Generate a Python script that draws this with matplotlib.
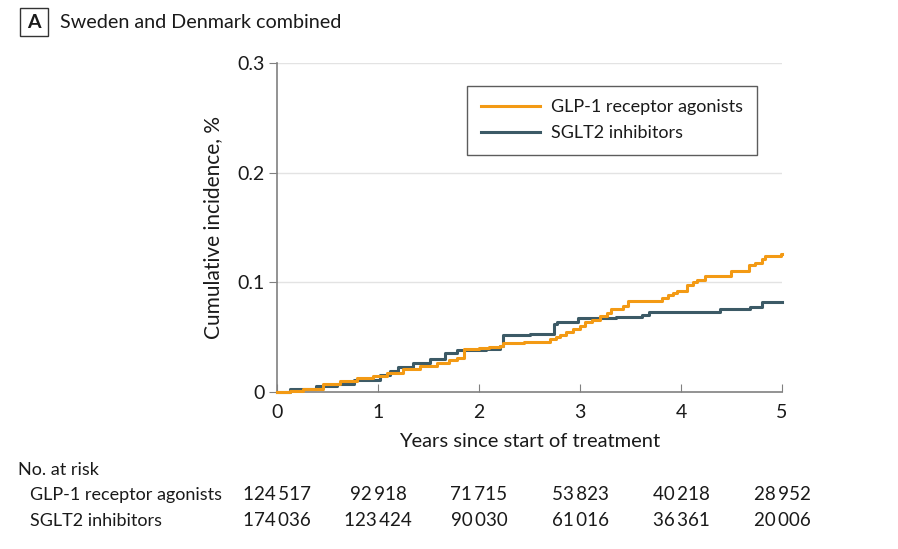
import matplotlib.pyplot as plt
import matplotlib.transforms as mtransforms
from matplotlib.patches import Rectangle

plt.rcParams['font.family'] = ['Lato', 'DejaVu Sans']

# Step curves (years, cumulative incidence %)
glp1_t = [0, 0.13, 0.26, 0.46, 0.62, 0.79, 0.95, 1.09, 1.25, 1.42, 1.58, 1.70, 1.78, 1.85,
          2.00, 2.10, 2.21, 2.24, 2.45, 2.70, 2.76, 2.80, 2.86, 2.93, 3.00, 3.05, 3.12,
          3.20, 3.27, 3.31, 3.43, 3.48, 3.81, 3.87, 3.92, 3.96, 4.06, 4.12, 4.16, 4.24,
          4.50, 4.67, 4.73, 4.80, 4.83, 4.99, 5.0]
glp1_y = [0, 0.0005, 0.0027, 0.0076, 0.010, 0.0128, 0.015, 0.0173, 0.021, 0.024, 0.0264,
          0.029, 0.031, 0.0395, 0.040, 0.041, 0.0415, 0.0447, 0.046, 0.048, 0.050, 0.052,
          0.055, 0.0577, 0.060, 0.0634, 0.066, 0.069, 0.072, 0.0757, 0.078, 0.0826,
          0.0857, 0.088, 0.090, 0.0917, 0.0978, 0.100, 0.1024, 0.1054, 0.110, 0.116,
          0.118, 0.121, 0.1242, 0.1257, 0.1257]

sglt2_t = [0, 0.13, 0.39, 0.59, 0.76, 1.02, 1.12, 1.20, 1.35, 1.51, 1.66, 1.78, 2.07,
           2.21, 2.24, 2.50, 2.74, 2.77, 2.98, 3.36, 3.61, 3.68, 4.39, 4.68, 4.80, 5.0]
sglt2_y = [0, 0.0027, 0.0057, 0.0076, 0.0112, 0.0158, 0.019, 0.0228, 0.0264, 0.030,
           0.036, 0.0386, 0.0395, 0.0415, 0.052, 0.053, 0.062, 0.064, 0.0675, 0.0684,
           0.0704, 0.0729, 0.0757, 0.0771, 0.0817, 0.0817]

years = [0, 1, 2, 3, 4, 5]
risk_glp1 = ['124 517', '92 918', '71 715', '53 823', '40 218', '28 952']
risk_sglt2 = ['174 036', '123 424', '90 030', '61 016', '36 361', '20 006']

orange = '#F39A14'
teal = '#3C5A66'
textc = '#1a1a1a'

fig = plt.figure(figsize=(8.98, 5.49), dpi=100)
ax = fig.add_axes([0.3085, 0.286, 0.5623, 0.5992])

for g in [0.1, 0.2, 0.3]:
    ax.axhline(g, color='#e3e3e3', lw=1, zorder=0)

ax.step(sglt2_t, sglt2_y, where='post', color=teal, lw=2.2, label='SGLT2 inhibitors',
        zorder=3, clip_on=False)
ax.step(glp1_t, glp1_y, where='post', color=orange, lw=2.2, label='GLP-1 receptor agonists',
        zorder=4, clip_on=False)

ax.set_xlim(0, 5)
ax.set_ylim(0, 0.3)
ax.set_xticks(years)
ax.set_yticks([0, 0.1, 0.2, 0.3])
ax.set_yticklabels(['0', '0.1', '0.2', '0.3'])
for s in ['top', 'right']:
    ax.spines[s].set_visible(False)
for s in ['left', 'bottom']:
    ax.spines[s].set_color('#808080')
    ax.spines[s].set_linewidth(1.2)
ax.tick_params(axis='x', direction='in', length=6, color='#808080', labelsize=14,
               labelcolor=textc, pad=9)
ax.tick_params(axis='y', direction='out', length=6, color='#808080', labelsize=14,
               labelcolor=textc, pad=3)
ax.set_xlabel('Years since start of treatment', fontsize=14.5, color=textc, labelpad=8)
ax.set_ylabel('Cumulative incidence, %', fontsize=15, color=textc, labelpad=10)

handles, labels = ax.get_legend_handles_labels()
leg = ax.legend(handles[::-1], labels[::-1], loc='upper right', bbox_to_anchor=(0.95, 0.931),
                fontsize=13, frameon=True, fancybox=False, edgecolor='#333333',
                handlelength=3.3, handletextpad=0.6, borderpad=0.75, labelspacing=0.55,
                borderaxespad=0)
leg.get_frame().set_linewidth(1.0)
for t in leg.get_texts():
    t.set_color(textc)

# panel label
fig.patches.append(Rectangle((20 / 898, 1 - 36 / 549), 28 / 898, 28 / 549,
                             transform=fig.transFigure, fill=False, ec='#333333', lw=1.0))
fig.text(34 / 898, 1 - 22 / 549, 'A', fontsize=14, fontweight='bold', ha='center',
         va='center', color=textc)
fig.text(60 / 898, 1 - 22 / 549, 'Sweden and Denmark combined', fontsize=14.2, ha='left',
         va='center', color=textc)

# number at risk table
trans = mtransforms.blended_transform_factory(ax.transData, fig.transFigure)
fig.text(18 / 898, 1 - 470 / 549, 'No. at risk', fontsize=13, ha='left', va='center', color=textc)
fig.text(30 / 898, 1 - 495 / 549, 'GLP-1 receptor agonists', fontsize=13, ha='left',
         va='center', color=textc)
fig.text(30 / 898, 1 - 521 / 549, 'SGLT2 inhibitors', fontsize=13, ha='left',
         va='center', color=textc)
for x, a, b in zip(years, risk_glp1, risk_sglt2):
    ax.text(x, 1 - 495 / 549, a.replace(' ', '\u2009'), transform=trans, fontsize=13.5,
            ha='center', va='center', color=textc, clip_on=False)
    ax.text(x, 1 - 521 / 549, b.replace(' ', '\u2009'), transform=trans, fontsize=13.5,
            ha='center', va='center', color=textc, clip_on=False)

fig.savefig('out.png', dpi=100)
